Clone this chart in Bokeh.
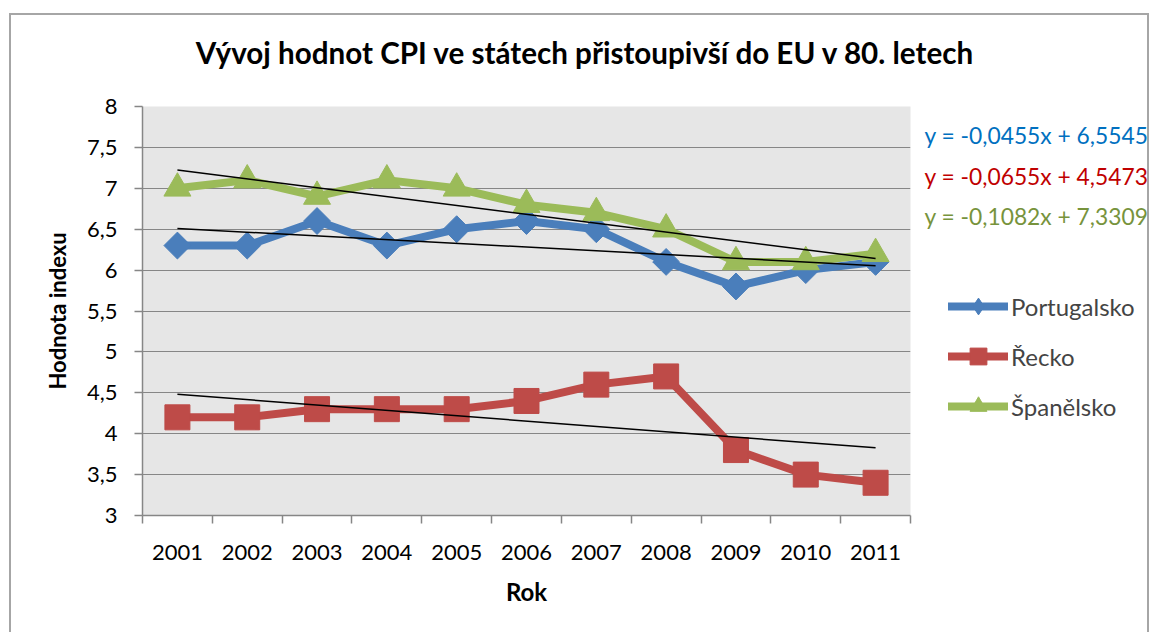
from bokeh.plotting import figure
from bokeh.models import Range1d, FixedTicker, Legend, LegendItem
from bokeh.layouts import column, row
from bokeh.core.properties import value
from bokeh.embed import file_html
from bokeh.resources import INLINE
import math

# ---- data ----
years = [2001, 2002, 2003, 2004, 2005, 2006, 2007, 2008, 2009, 2010, 2011]
portugalsko = [6.3, 6.3, 6.6, 6.3, 6.5, 6.6, 6.5, 6.1, 5.8, 6.0, 6.1]
recko = [4.2, 4.2, 4.3, 4.3, 4.3, 4.4, 4.6, 4.7, 3.8, 3.5, 3.4]
spanelsko = [7.0, 7.1, 6.9, 7.1, 7.0, 6.8, 6.7, 6.5, 6.1, 6.1, 6.2]
series_names = ["Portugalsko", "Řecko", "Španělsko"]
trend_slopes = [-0.0455, -0.0655, -0.1082]
trend_intercepts = [6.5545, 4.5473, 7.3309]
y_ticks = [3, 3.5, 4, 4.5, 5, 5.5, 6, 6.5, 7, 7.5, 8]
title_text = "Vývoj hodnot CPI ve státech přistoupivší do EU v 80. letech"

FONT = "Lato"
W, H = 1153, 632
TOP_H = 80
MAIN_W = 918
xs = list(range(1, len(years) + 1))

colors = ["#4a7ebb", "#be4b48", "#9bbb59"]
eq_colors = ["#0070c0", "#c00000", "#77933c"]
markers = ["square", "square", "triangle"]
legend_markers = ["diamond", "square", "triangle"]
angles = [math.pi / 4, 0, 0]
sizes = [19, 25, 27]
data = [portugalsko, recko, spanelsko]


def blank(w, h, yr):
    f = figure(width=w, height=h, output_backend="svg", toolbar_location=None,
               x_range=Range1d(0, w), y_range=yr, min_border=0)
    f.axis.visible = False
    f.grid.visible = False
    f.outline_line_color = None
    f.background_fill_color = None
    f.border_fill_color = None
    return f


# ---- title strip ----
t = blank(W, TOP_H, Range1d(TOP_H, 0))
t.text(x=[585], y=[52], text=[title_text], text_font=value(FONT), text_font_style="bold",
       text_font_size="29.6px", text_align="center", text_baseline="middle", text_color="black")

# ---- main chart ----
p = figure(width=MAIN_W, height=H - TOP_H, output_backend="svg", toolbar_location=None,
           x_range=Range1d(0.5, len(years) + 0.5), y_range=Range1d(3, 8),
           min_border_left=142, min_border_right=8, min_border_top=106 - TOP_H, min_border_bottom=117)
p.background_fill_color = "#e6e6e6"
p.border_fill_color = None
p.outline_line_color = None
p.xgrid.visible = False
p.ygrid.grid_line_color = "#868686"
p.ygrid.grid_line_width = 1.2
p.ygrid.ticker = FixedTicker(ticks=y_ticks)

xa = p.xaxis[0]
xa.ticker = FixedTicker(ticks=xs, minor_ticks=[x - 0.5 for x in xs] + [len(xs) + 0.5])
xa.major_label_overrides = {x: str(y) for x, y in zip(xs, years)}
xa.major_tick_line_color = None
xa.minor_tick_line_color = "#868686"
xa.minor_tick_out = 8
xa.minor_tick_in = 0
xa.minor_tick_line_width = 1.5
xa.axis_line_color = "#868686"
xa.axis_line_width = 1.5
xa.major_label_text_font = FONT
xa.major_label_text_font_size = "22px"
xa.major_label_text_color = "black"
xa.major_label_standoff = 21
xa.axis_label = "Rok"
xa.axis_label_text_font = FONT
xa.axis_label_text_font_style = "bold"
xa.axis_label_text_font_size = "24px"
xa.axis_label_text_color = "black"
xa.axis_label_standoff = 14

ya = p.yaxis[0]
ya.ticker = FixedTicker(ticks=y_ticks)
ya.major_label_overrides = {tk: (str(tk).replace(".", ",") if tk != int(tk) else str(int(tk))) for tk in y_ticks}
ya.major_tick_line_color = "#868686"
ya.major_tick_out = 8
ya.major_tick_in = 0
ya.major_tick_line_width = 1.5
ya.minor_tick_line_color = None
ya.axis_line_color = "#868686"
ya.axis_line_width = 1.5
ya.major_label_text_font = FONT
ya.major_label_text_font_size = "22px"
ya.major_label_text_color = "black"
ya.major_label_standoff = 17
ya.axis_label = "Hodnota indexu"
ya.axis_label_text_font = FONT
ya.axis_label_text_font_style = "bold"
ya.axis_label_text_font_size = "22px"
ya.axis_label_text_color = "black"
ya.axis_label_standoff = 13

for name, vals, c, m, a, s in zip(series_names, data, colors, markers, angles, sizes):
    p.line(xs, vals, line_color=c, line_width=8, line_join="round", line_cap="round")
    p.scatter(xs, vals, marker=m, size=s, angle=a, fill_color=c, line_color=c)

for k, b in zip(trend_slopes, trend_intercepts):
    x0, x1 = xs[0], xs[-1]
    p.line([x0, x1], [k * x0 + b, k * x1 + b], line_color="black", line_width=1.5)

# ---- side panel: trend equations + legend ----
s = blank(W - MAIN_W, H - TOP_H, Range1d(H, TOP_H))
eq_y = [119, 174, 228]
for k, b, c, yy in zip(trend_slopes, trend_intercepts, eq_colors, eq_y):
    txt = "y = %sx + %s" % (("%.4f" % k).replace(".", ","), ("%.4f" % b).replace(".", ","))
    s.text(x=[6], y=[yy], text=[txt], text_color=c, text_font=value(FONT),
           text_font_size="22.8px", text_baseline="middle")

items = []
for name, c, m in zip(series_names, colors, legend_markers):
    l = s.line([float("nan")], [float("nan")], line_color=c, line_width=8, line_cap="round")
    sc = s.scatter([float("nan")], [float("nan")], marker=m, size=10, fill_color=c, line_color=c)
    items.append(LegendItem(label=name, renderers=[l, sc]))
legend = Legend(items=items, location=(30, 88), glyph_width=60, glyph_height=42,
                label_text_font=FONT, label_text_font_size="24px", spacing=8,
                background_fill_alpha=0, border_line_color=None, padding=0, margin=0,
                label_standoff=3)
s.add_layout(legend, "center")

G = "linear-gradient(#a6a6a6,#a6a6a6)"
border_css = (G + " 9px 13px / 1140px 2px no-repeat, " +
              G + " 9px 13px / 2px 700px no-repeat, " +
              G + " 1147px 13px / 2px 700px no-repeat")

layout = column(t, row(p, s), styles={"background": border_css})
open("out.html", "w").write(file_html(layout, INLINE))
